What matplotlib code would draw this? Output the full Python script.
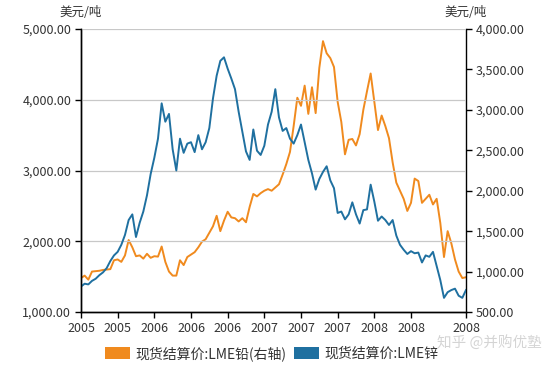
import matplotlib
matplotlib.use("Agg")
import matplotlib.pyplot as plt
from matplotlib.patches import Patch
import numpy as np

plt.rcParams["font.family"] = ["Noto Sans CJK SC", "DejaVu Sans"]

# 锌 (left axis, USD/t), roughly bi-weekly readings 2005-2008
zinc = [1360, 1400, 1390, 1440, 1470, 1520, 1560, 1620, 1720, 1800,
        1850, 1950, 2090, 2300, 2380, 2060, 2260, 2420, 2650, 2950,
        3180, 3450, 3950, 3690, 3800, 3300, 3000, 3450, 3250, 3380,
        3400, 3260, 3500, 3300, 3400, 3600, 4020, 4340, 4550, 4600,
        4440, 4300, 4150, 3830, 3550, 3270, 3150, 3580, 3280, 3220,
        3350, 3650, 3830, 4150, 3750, 3560, 3600, 3450, 3380, 3500,
        3650, 3400, 3150, 2960, 2730, 2880, 2980, 3060, 2860, 2750,
        2400, 2420, 2310, 2380, 2550, 2380, 2250, 2440, 2450, 2800,
        2560, 2290, 2350, 2300, 2230, 2300, 2080, 1950, 1880, 1820,
        1860, 1830, 1840, 1700, 1800, 1780, 1850, 1650, 1450, 1200,
        1280, 1310, 1330, 1230, 1200, 1310]

# 铅 (right axis, USD/t)
lead = [920, 950, 900, 1000, 1005, 1010, 1020, 1025, 1030, 1140,
        1150, 1120, 1200, 1390, 1300, 1190, 1200, 1160, 1220, 1170,
        1190, 1185, 1310, 1120, 1000, 950, 950, 1140, 1080, 1180,
        1210, 1240, 1300, 1370, 1400, 1480, 1560, 1690, 1500, 1630,
        1740, 1670, 1660, 1620, 1660, 1610, 1800, 1960, 1930, 1970,
        2000, 2020, 2000, 2040, 2080, 2200, 2330, 2480, 2800, 3150,
        3050, 3300, 2950, 3280, 2960, 3520, 3850, 3700, 3640, 3530,
        3100, 2850, 2450, 2630, 2640, 2560, 2700, 3000, 3230, 3450,
        3100, 2750, 2930, 2800, 2650, 2350, 2100, 2000, 1900, 1750,
        1850, 2150, 2120, 1850, 1900, 1950, 1830, 1900, 1600, 1180,
        1500, 1350, 1150, 1000, 920, 930]

x_tick_pos = [0, 10, 20, 30, 40, 50, 60, 70, 80, 90, 105]
x_tick_labels = ["2005", "2005", "2006", "2006", "2006", "2007",
                 "2007", "2007", "2008", "2008", "2008"]

orange = "#f08a1e"
blue = "#1f70a0"

fig = plt.figure(figsize=(5.57, 3.65), dpi=100)
ax = fig.add_axes([0.1454, 0.1452, 0.6912, 0.7753])
ax2 = ax.twinx()

x = np.arange(len(zinc))
ax2.plot(x, lead, color=orange, linewidth=1.4)
ax.plot(x, zinc, color=blue, linewidth=1.4)
ax.set_zorder(ax2.get_zorder() + 1)
ax.patch.set_visible(False)

ax.set_xlim(0, len(zinc) - 1)
ax.set_ylim(1000, 5000)
ax2.set_ylim(500, 4000)

ax.set_yticks(np.arange(1000, 5001, 1000))
ax2.set_yticks(np.arange(500, 4001, 500))
ax.yaxis.set_major_formatter(lambda v, p: f"{v:,.2f}")
ax2.yaxis.set_major_formatter(lambda v, p: f"{v:,.2f}")
ax.set_xticks(x_tick_pos)
ax.set_xticklabels(x_tick_labels)

ax.grid(axis="y", color="#c8c8c8", linewidth=0.9)
ax.set_axisbelow(True)

for a in (ax, ax2):
    a.spines["top"].set_visible(False)
    for s in ("left", "right", "bottom"):
        a.spines[s].set_color("black")
        a.spines[s].set_linewidth(1.0)
    a.tick_params(axis="both", length=4, width=1, color="black",
                  labelsize=9, labelcolor="#333333", pad=3)
ax.spines["right"].set_visible(False)

# unit labels above each y axis
fig.text(0.1454, 0.965, "美元/吨", ha="center", va="center", fontsize=9, color="#333333")
fig.text(0.8366, 0.965, "美元/吨", ha="center", va="center", fontsize=9, color="#333333")

handles = [Patch(facecolor=orange, edgecolor="none", label="现货结算价:LME铅(右轴)"),
           Patch(facecolor=blue, edgecolor="none", label="现货结算价:LME锌")]
fig.legend(handles=handles, loc="center", bbox_to_anchor=(0.488, 0.032), ncol=2,
           frameon=False, fontsize=10, handlelength=1.75, handleheight=0.9,
           handletextpad=0.4, columnspacing=0.6, labelcolor="#333333",
           borderpad=0, borderaxespad=0)

fig.text(0.973, 0.06, "知乎 @并购优塾", ha="right", va="center", fontsize=10.5,
         color="#d4d4d4")

fig.savefig("out.png", dpi=100)
